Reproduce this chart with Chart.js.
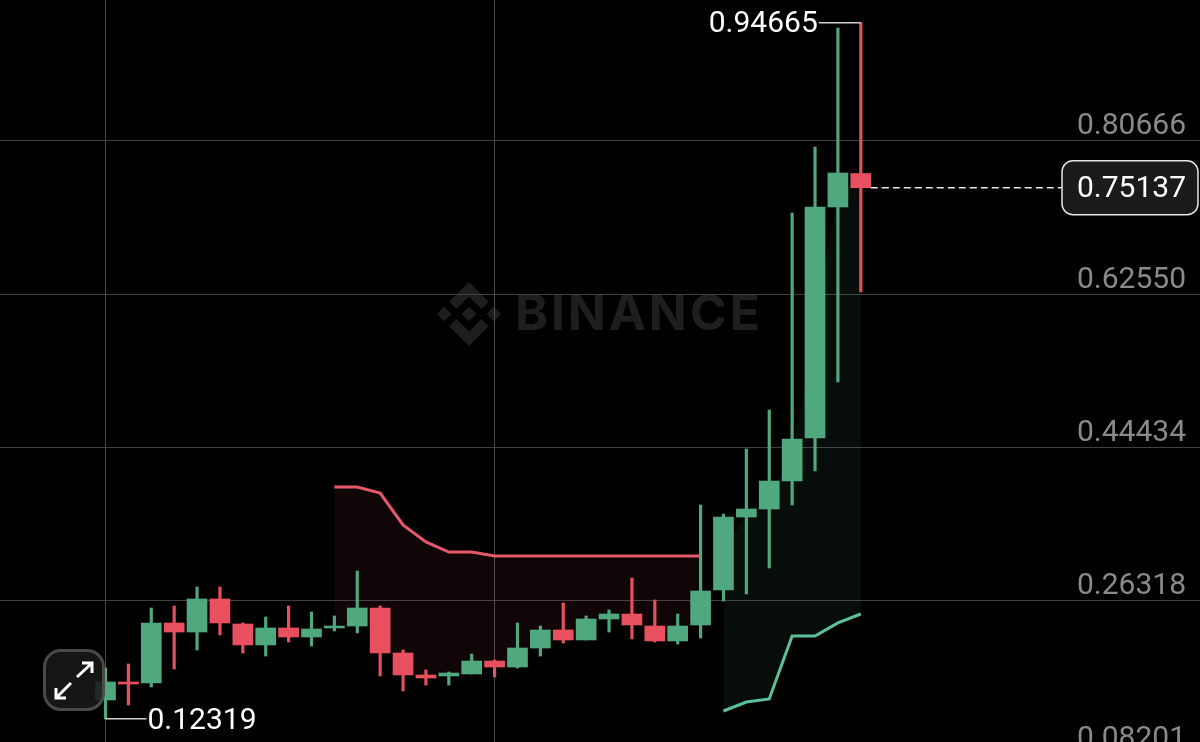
<!DOCTYPE html>
<html>
<head>
<meta charset="utf-8">
<title>BINANCE candles</title>
<script src="https://cdn.jsdelivr.net/npm/chart.js@4/dist/chart.umd.js"></script>
<style>
  html, body { margin: 0; height: 100%; background: #000; overflow: hidden; }
  canvas { display: block; }
  #expand {
    position: absolute; left: 43px; top: 649px; width: 56px; height: 56px;
    border: 3px solid #494949; border-radius: 18px; background: rgba(24, 24, 24, .88);
  }
</style>
</head>
<body>
<canvas id="chart" width="1200" height="770"></canvas>
<div id="expand">
  <svg width="56" height="56" viewBox="0 0 56 56" fill="none" stroke="#fff" stroke-width="3">
    <path d="M31 25 L46 11 M36 11 H46 V21"/>
    <path d="M25 31 L10 46 M10 36 V46 H20"/>
  </svg>
</div>
<script>
// candle values, index 0 is the leftmost candle
const opens = [0.1455, 0.1668, 0.1656, 0.2366, 0.2259, 0.2650, 0.2354, 0.2106, 0.2307, 0.2200, 0.2307, 0.2330, 0.2543, 0.2011, 0.1751, 0.1739, 0.1763, 0.1916, 0.1845, 0.2070, 0.2283, 0.2165, 0.2413, 0.2472, 0.2330, 0.2153, 0.2342, 0.2756, 0.3619, 0.3714, 0.4045, 0.4554, 0.7286, 0.7682];
const closes = [0.1668, 0.1644, 0.2366, 0.2259, 0.2650, 0.2366, 0.2106, 0.2307, 0.2200, 0.2295, 0.2330, 0.2543, 0.2011, 0.1751, 0.1715, 0.1774, 0.1916, 0.1845, 0.2070, 0.2283, 0.2165, 0.2413, 0.2472, 0.2342, 0.2153, 0.2330, 0.2744, 0.3619, 0.3714, 0.4045, 0.4542, 0.7286, 0.7688, 0.75137];
const highs = [0.1834, 0.1881, 0.2543, 0.2567, 0.2792, 0.2792, 0.2366, 0.2437, 0.2567, 0.2496, 0.2449, 0.2981, 0.2567, 0.2046, 0.1810, 0.1786, 0.1999, 0.1928, 0.2366, 0.2330, 0.2602, 0.2449, 0.2520, 0.2898, 0.2638, 0.2472, 0.3761, 0.3655, 0.4424, 0.4885, 0.7215, 0.7995, 0.9403, 0.94665];
const lows = [0.12319, 0.1396, 0.1609, 0.1822, 0.2046, 0.2224, 0.2011, 0.1975, 0.2141, 0.2094, 0.2271, 0.2248, 0.1739, 0.1562, 0.1632, 0.1632, 0.1763, 0.1727, 0.1834, 0.1975, 0.2129, 0.2165, 0.2259, 0.2177, 0.2141, 0.2117, 0.2188, 0.2626, 0.2709, 0.3016, 0.3761, 0.4163, 0.5216, 0.6281];

// trend bands: the line and the edge its shading runs to
const downStart = 10;
const downLine = [0.3974, 0.3974, 0.3903, 0.3525, 0.3324, 0.3205, 0.3205, 0.3158, 0.3158, 0.3158, 0.3158, 0.3158, 0.3158, 0.3158, 0.3158, 0.3158, 0.3158];
const downEdge = [0.2318, 0.2437, 0.2283, 0.1881, 0.1733, 0.1757, 0.1839, 0.1881, 0.1958, 0.2177, 0.2224, 0.2289, 0.2443, 0.2407, 0.2242, 0.2242, 0.2543];
const upStart = 27;
const upLine = [0.1325, 0.1431, 0.1467, 0.2212, 0.2212, 0.2366, 0.2472];
const upEdge = [0.3188, 0.3667, 0.3880, 0.4294, 0.5920, 0.7487, 0.7605];

const priceTicks = [0.80666, 0.62550, 0.44434, 0.26318, 0.08201];
const timeTicks = [0, 17];
const highLabel = '0.94665';
const lowLabel = '0.12319';
const lastPrice = 0.75137;

const GREEN = '#50a97e';
const RED = '#e9505f';
const FONT = 'Roboto, "Noto Sans", sans-serif';

const candleColor = ctx => closes[ctx.dataIndex] >= opens[ctx.dataIndex] ? GREEN : RED;
const series = (values, start) => values.map((y, i) => ({ x: start + i, y }));

// scales sit flush with the canvas, mirrored labels take no room
const flush = scale => {
  scale.paddingTop = scale.paddingBottom = scale.paddingLeft = scale.paddingRight = 0;
  if (scale.isHorizontal()) scale.height = 0; else scale.width = 0;
};

// Binance mark, in the logo's own 126.6 unit box
const LOGO = [
  [[38.73, 53.2], [63.31, 28.62], [87.9, 53.21], [102.2, 38.91], [63.31, 0], [24.43, 38.88]],
  [[0, 63.31], [14.3, 49.01], [28.6, 63.31], [14.3, 77.61]],
  [[38.73, 73.41], [63.31, 97.99], [87.9, 73.4], [102.21, 87.69], [63.31, 126.61], [24.42, 87.72]],
  [[98, 63.31], [112.3, 49.01], [126.6, 63.31], [112.3, 77.61]],
  [[77.83, 63.3], [63.31, 48.78], [48.8, 63.28], [63.31, 77.8]]
];

const watermark = {
  id: 'watermark',
  beforeDraw(chart) {
    const c = chart.ctx;
    c.save();
    c.fillStyle = '#1e1e1e';
    const k = 64 / 126.6;
    LOGO.forEach(poly => {
      c.beginPath();
      poly.forEach(([x, y]) => c.lineTo(437 + x * k, 282 + y * k));
      c.closePath();
      c.fill();
    });
    c.font = '700 50px Inter, ' + FONT;
    c.letterSpacing = '2.8px';
    c.textBaseline = 'middle';
    c.fillText('BINANCE', 515, 315);
    c.restore();
  }
};

const annotations = {
  id: 'annotations',
  afterDraw(chart) {
    const c = chart.ctx;
    const { x: xs, y: ys } = chart.scales;
    c.save();
    c.font = '30px ' + FONT;
    c.textBaseline = 'middle';

    // highest high
    const hx = xs.getPixelForValue(33);
    const hy = ys.getPixelForValue(0.94665);
    c.strokeStyle = '#cfcfcf';
    c.lineWidth = 1.5;
    c.beginPath();
    c.moveTo(hx, hy);
    c.lineTo(hx - 42, hy);
    c.stroke();
    c.fillStyle = '#fff';
    c.textAlign = 'right';
    c.fillText(highLabel, hx - 43, hy + 2);

    // lowest low
    const lx = xs.getPixelForValue(0);
    const ly = ys.getPixelForValue(0.12319);
    c.beginPath();
    c.moveTo(lx, ly);
    c.lineTo(lx + 41, ly);
    c.stroke();
    c.textAlign = 'left';
    c.fillText(lowLabel, lx + 42, ly + 3);

    // last price line and box
    const py = ys.getPixelForValue(lastPrice);
    c.strokeStyle = '#e8e8e8';
    c.setLineDash([7, 4]);
    c.beginPath();
    c.moveTo(xs.getPixelForValue(33) + 10, py);
    c.lineTo(1062, py);
    c.stroke();
    c.setLineDash([]);
    c.fillStyle = '#1b1b1b';
    c.strokeStyle = '#e6e6e6';
    c.lineWidth = 1.5;
    c.beginPath();
    c.roundRect(1062, py - 27, 136, 54, 11);
    c.fill();
    c.stroke();
    c.fillStyle = '#fff';
    c.textAlign = 'right';
    c.fillText(lastPrice.toFixed(5), 1186, py + 2);
    c.restore();
  }
};

new Chart(document.getElementById('chart').getContext('2d'), {
  type: 'bar',
  data: {
    datasets: [
      { type: 'line', data: series(downEdge, downStart), pointRadius: 0, borderWidth: 0, order: 9 },
      { type: 'line', data: series(downLine, downStart), pointRadius: 0, borderColor: '#e5596a', borderWidth: 3,
        fill: { target: 0 }, backgroundColor: 'rgba(233, 80, 95, .07)', order: 8 },
      { type: 'line', data: series(upEdge, upStart), pointRadius: 0, borderWidth: 0, order: 9 },
      { type: 'line', data: series(upLine, upStart), pointRadius: 0, borderColor: '#5cc09a', borderWidth: 3,
        fill: { target: 2 }, backgroundColor: 'rgba(80, 169, 126, .08)', order: 8 },
      { data: highs.map((h, i) => ({ x: i, y: [lows[i], h] })), barThickness: 2.5, grouped: false,
        backgroundColor: candleColor, order: 2 },
      { data: opens.map((o, i) => ({ x: i, y: [o, closes[i]] })), barThickness: 20, grouped: false,
        backgroundColor: candleColor, order: 1 }
    ]
  },
  options: {
    responsive: false,
    animation: false,
    layout: { padding: 0 },
    plugins: { legend: { display: false }, tooltip: { enabled: false } },
    scales: {
      x: {
        type: 'linear',
        offset: false,
        stacked: false,
        min: -4.609,
        max: 47.82,
        afterBuildTicks: scale => { scale.ticks = timeTicks.map(value => ({ value })); },
        afterFit: flush,
        ticks: { display: false },
        grid: { color: '#4a4a4a', offset: false, drawTicks: false },
        border: { display: false }
      },
      y: {
        position: 'right',
        min: 0.0627,
        max: 0.97342,
        afterBuildTicks: scale => { scale.ticks = priceTicks.map(value => ({ value })); },
        afterFit: flush,
        ticks: {
          mirror: true,
          padding: -14,
          labelOffset: -14,
          color: '#8a8a8a',
          font: { family: FONT, size: 30 },
          callback: v => v.toFixed(5)
        },
        grid: { color: '#404040', drawTicks: false },
        border: { display: false }
      }
    }
  },
  plugins: [watermark, annotations]
});
</script>
</body>
</html>
